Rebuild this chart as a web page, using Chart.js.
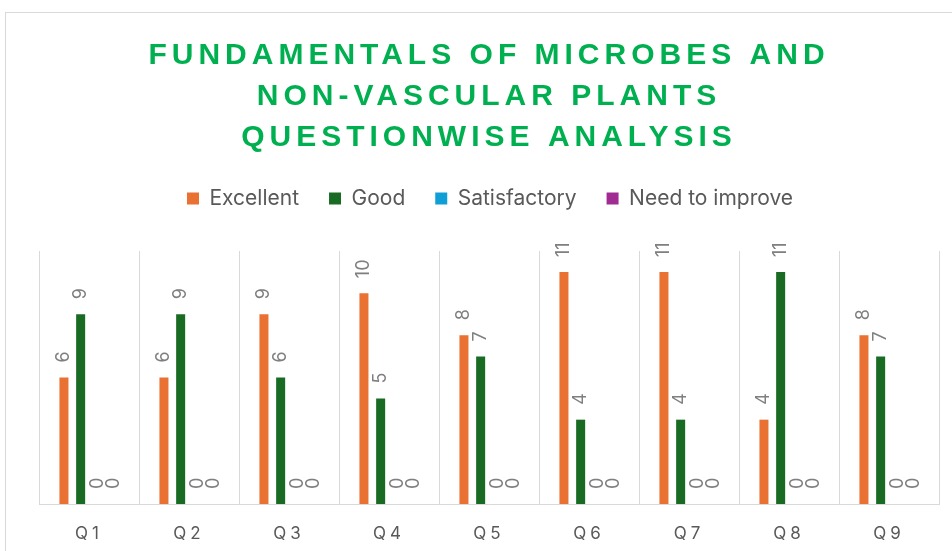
<!DOCTYPE html>
<html>
<head>
<meta charset="utf-8">
<script src="https://cdn.jsdelivr.net/npm/chart.js@4"></script>
<style>
  body { margin: 0; background: #fff; }
  canvas { display: block; }
</style>
</head>
<body>
<canvas id="chart" width="952" height="551"></canvas>
<script>
'use strict';
const questions = ['Q1', 'Q2', 'Q3', 'Q4', 'Q5', 'Q6', 'Q7', 'Q8', 'Q9'];
const excellent = [6, 6, 9, 10, 8, 11, 11, 4, 8];
const good = [9, 9, 6, 5, 7, 4, 4, 11, 7];
const satisfactory = [0, 0, 0, 0, 0, 0, 0, 0, 0];
const needToImprove = [0, 0, 0, 0, 0, 0, 0, 0, 0];
const titleLines = ['FUNDAMENTALS OF MICROBES AND', 'NON-VASCULAR PLANTS', 'QUESTIONWISE ANALYSIS'];

const textGray = '#595959';
const lineGray = '#d9d9d9';

// letter spacing on a box's draw call
function spaced(obj, method, px) {
  if (!obj || obj['_sp_' + method]) return;
  const orig = obj[method];
  obj[method] = function (...args) {
    const c = this.ctx;
    c.save();
    c.letterSpacing = px;
    const r = orig.apply(this, args);
    c.restore();
    return r;
  };
  obj['_sp_' + method] = true;
}

const tweaks = {
  id: 'tweaks',
  beforeLayout(chart) {
    const lg = chart.legend;
    if (lg && !lg._fitWrapped) {
      const fit = lg.fit;
      lg.fit = function () {
        fit.call(this);
        this.height += 32;
        if (this.lineWidths) this.lineWidths[0] -= 2;
      };
      lg._fitWrapped = true;
    }
  },
  beforeDraw(chart) {
    const ctx = chart.ctx;
    ctx.save();
    ctx.strokeStyle = lineGray;
    ctx.lineWidth = 1;
    ctx.strokeRect(5.5, 12.5, 1000, 1000);
    ctx.restore();
    spaced(chart.titleBlock, 'draw', '5px');
    spaced(chart.scales.x, 'drawLabels', '4px');
  },
  afterDatasetsDraw(chart) {
    const ctx = chart.ctx;
    const top = chart.chartArea.top - 14;
    ctx.save();
    ctx.font = '18px Inter';
    ctx.fillStyle = '#7f7f7f';
    ctx.textAlign = 'left';
    ctx.textBaseline = 'middle';
    chart.data.datasets.forEach((ds, i) => {
      chart.getDatasetMeta(i).data.forEach((bar, j) => {
        const txt = String(ds.data[j]);
        const w = ctx.measureText(txt).width;
        let y = bar.y - 15;
        if (y - w < top) y = top + w;
        ctx.save();
        ctx.translate(bar.x, y);
        ctx.rotate(-Math.PI / 2);
        ctx.fillText(txt, 0, 0);
        ctx.restore();
      });
    });
    ctx.restore();
  }
};

new Chart(document.getElementById('chart'), {
  type: 'bar',
  data: {
    labels: questions,
    datasets: [
      { label: 'Excellent', data: excellent, backgroundColor: '#E97132' },
      { label: 'Good', data: good, backgroundColor: '#196B24' },
      { label: 'Satisfactory', data: satisfactory, backgroundColor: '#0F9ED5' },
      { label: 'Need to improve', data: needToImprove, backgroundColor: '#A02B93' }
    ]
  },
  options: {
    responsive: false,
    devicePixelRatio: 1,
    animation: false,
    categoryPercentage: 0.668,
    barPercentage: 0.54,
    layout: { padding: { left: 39, right: 13, top: 0, bottom: 9 } },
    plugins: {
      title: {
        display: true,
        text: titleLines,
        color: '#00B050',
        font: { family: 'Liberation Sans', size: 30, weight: 'bold', lineHeight: 41 / 30 },
        padding: { top: 35, bottom: 0 }
      },
      legend: {
        labels: {
          color: textGray,
          font: { family: 'Inter', size: 21 },
          boxWidth: 12,
          boxHeight: 12,
          padding: 30
        }
      },
      tooltip: { enabled: false }
    },
    scales: {
      x: {
        grid: { color: lineGray, drawTicks: false, offset: true },
        border: { color: lineGray, width: 1 },
        ticks: {
          color: textGray,
          font: { family: 'Inter', size: 17 },
          padding: 20,
          maxRotation: 0,
          autoSkip: false
        },
        afterFit(scale) { scale.height = 38; }
      },
      y: {
        display: false,
        min: 0,
        max: 12
      }
    }
  },
  plugins: [tweaks]
});
</script>
</body>
</html>
